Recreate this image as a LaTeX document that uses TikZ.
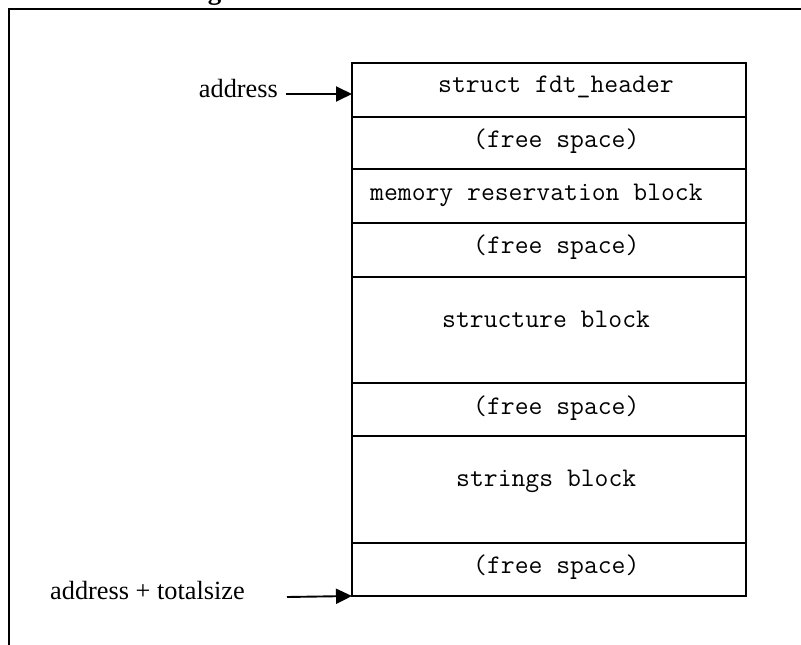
\documentclass[tikz,border=0pt]{standalone}
\usepackage{fontspec}
\setmainfont{Liberation Serif}
\usetikzlibrary{arrows.meta}
\tikzset{
  row/.style={draw, line width=1.5pt, minimum width=394pt, inner sep=0pt, outer sep=0pt},
  mono/.style={font=\fontsize{26.9}{30}\ttfamily, inner sep=0pt, anchor=base west},
  lbl/.style={font=\fontsize{26.3}{30}\selectfont, inner sep=0pt},
  ptr/.style={line width=1.9pt, -{Triangle[length=16pt,width=15pt]}},
  frame/.style={line width=1.8pt}
}
\begin{document}
\begin{tikzpicture}[x=1pt,y=-1pt]
\useasboundingbox (0,0) rectangle (801,645);
% title (mostly above the visible area)
\node[font=\fontsize{27}{30}\bfseries, inner sep=0pt, anchor=base] (title) at (392,0) {Figure 5-1 Devicetree .dtb Structure};
% outer frame (cut at right and bottom)
\coordinate (fl) at (9,660);
\coordinate (fc) at (9,9);
\coordinate (fr) at (820,9);
\draw[frame] (fl) -- (fc) -- (fr);
% rows
\node[row, minimum height=54pt] (r1) at (549,90) {};
\node[row, minimum height=52pt] (r2) at (549,143) {};
\node[row, minimum height=54pt] (r3) at (549,196) {};
\node[row, minimum height=54pt] (r4) at (549,250) {};
\node[row, minimum height=106pt] (r5) at (549,330) {};
\node[row, minimum height=53pt] (r6) at (549,409.5) {};
\node[row, minimum height=107pt] (r7) at (549,489.5) {};
\node[row, minimum height=53pt] (r8) at (549,569.5) {};
% texts
\node[mono] (t1) at (438,92) {struct fdt\_header};
\node[mono] (t2) at (473,147) {(free space)};
\node[mono] (t3) at (370,200) {memory reservation block};
\node[mono] (t4) at (473,253) {(free space)};
\node[mono] (t5) at (442,327) {structure block};
\node[mono] (t6) at (473,414) {(free space)};
\node[mono] (t7) at (456,486) {strings block};
\node[mono] (t8) at (473,573) {(free space)};
% labels and pointers
\node[lbl, anchor=base east] (addr) at (278,97) {address};
\node[lbl, anchor=base west] (addrend) at (50,599) {address + totalsize};
\coordinate (p1) at (286,94);
\coordinate (p2) at (287,597);
\draw[ptr] (p1) -- (r1.west |- p1);
\draw[ptr] (p2) -- (r8.south west);
\end{tikzpicture}
\end{document}
